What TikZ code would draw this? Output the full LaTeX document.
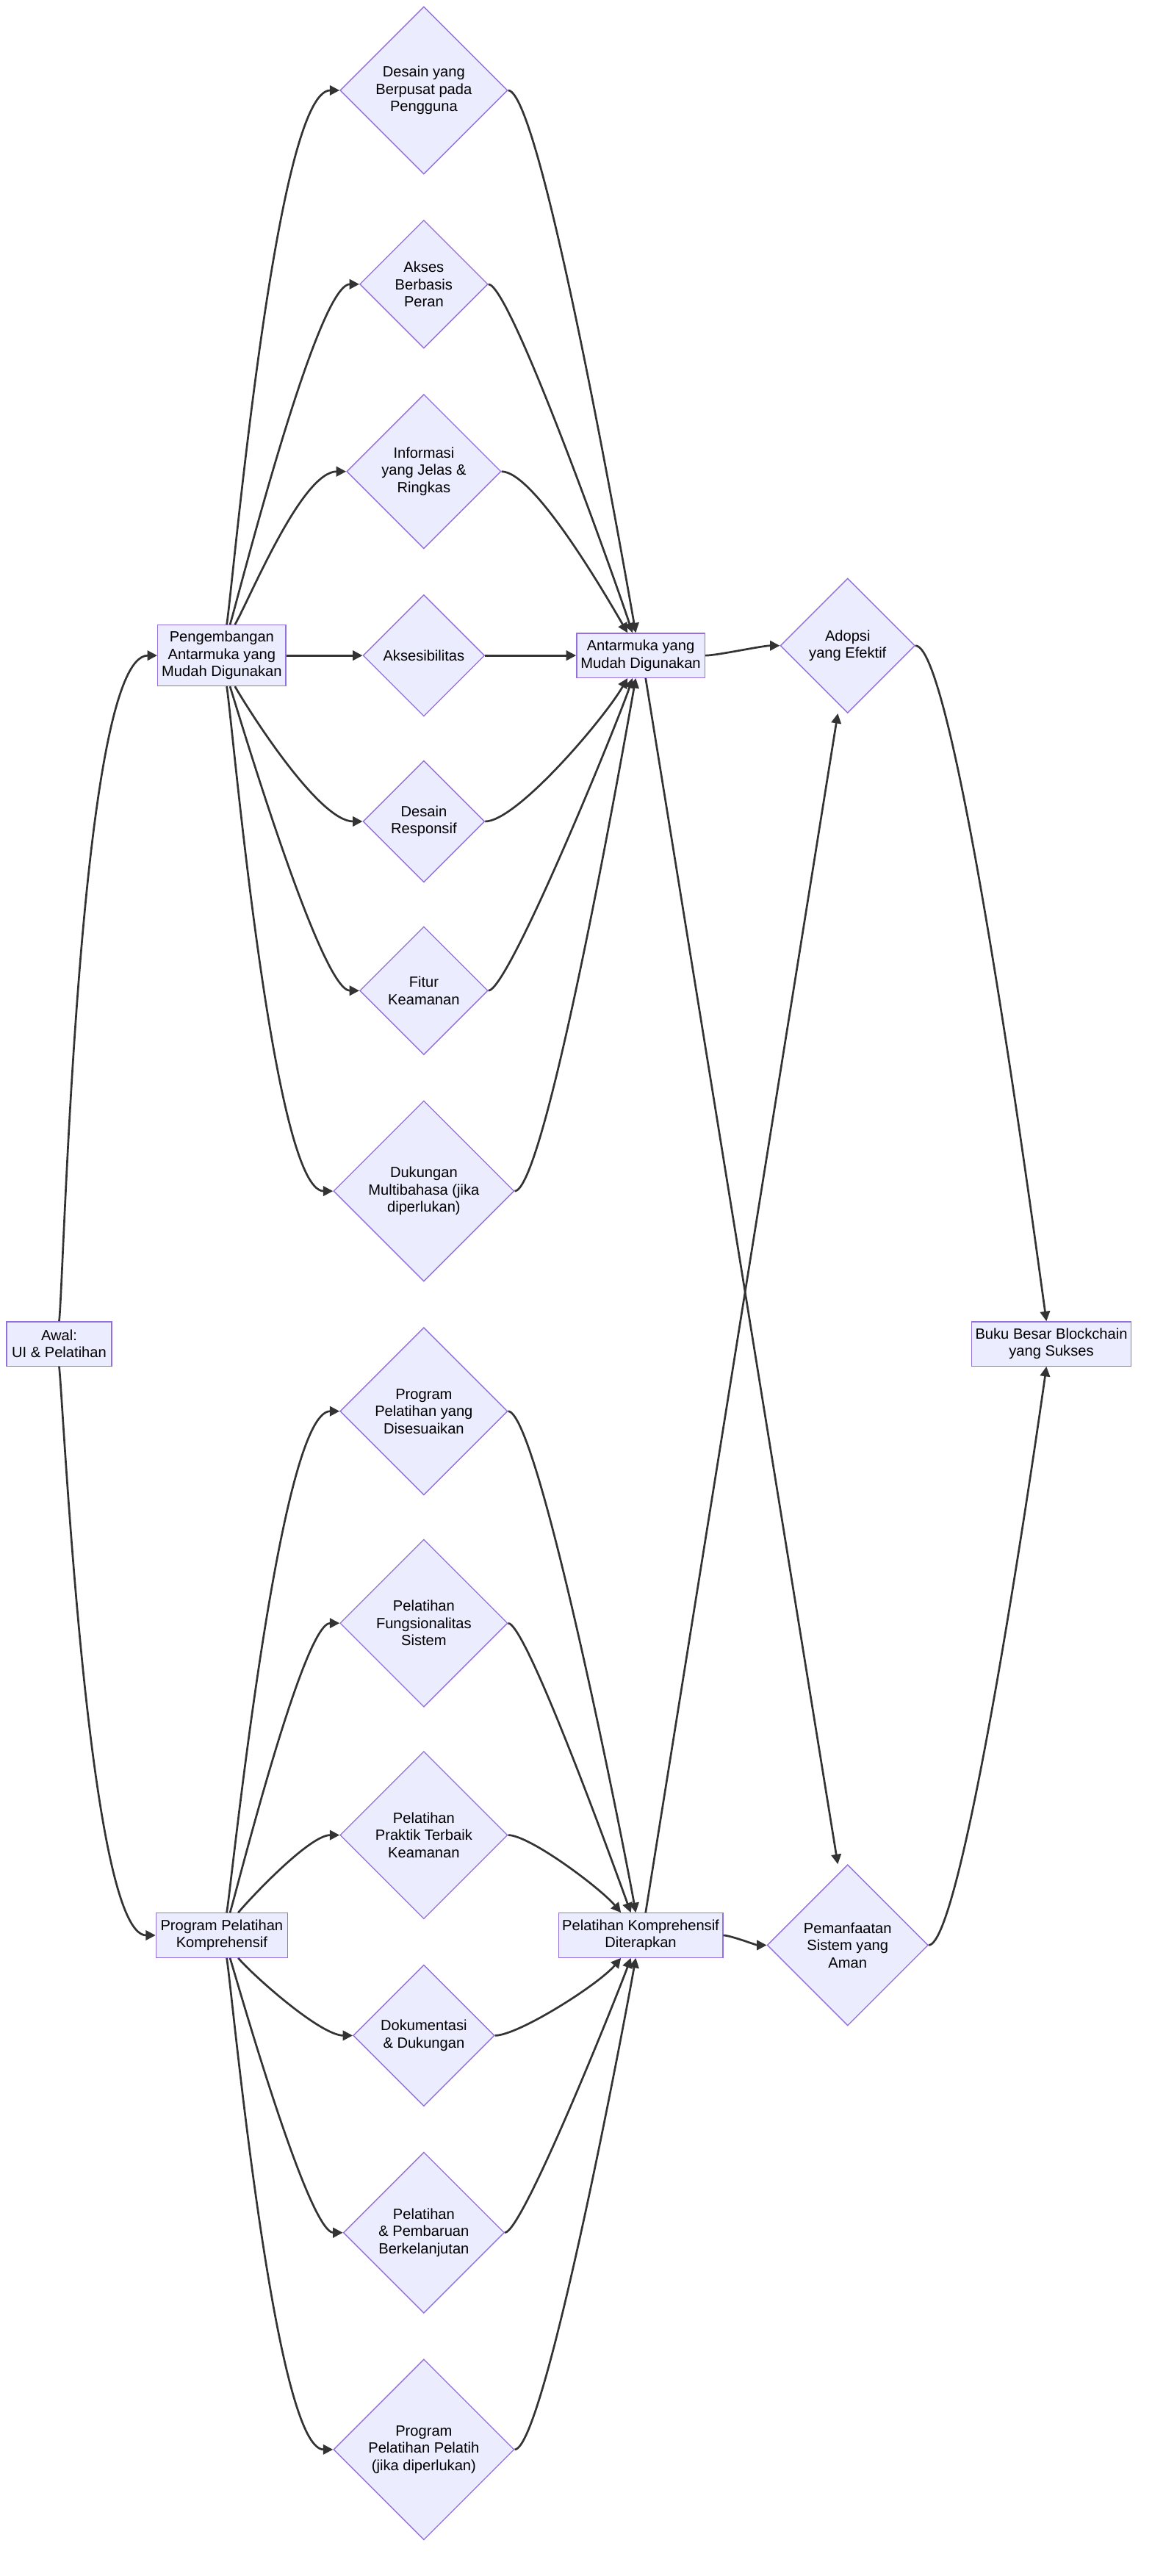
\documentclass[tikz,border=0pt]{standalone}
\usepackage{fontspec}
\setmainfont{Liberation Sans}
\usetikzlibrary{shapes.geometric,arrows.meta}
\definecolor{boxfill}{HTML}{ECECFF}
\definecolor{boxline}{HTML}{9370DB}
\definecolor{linecol}{HTML}{333333}
\tikzset{
  box/.style={draw=boxline, fill=boxfill, align=center, inner sep=2pt, font=\fontsize{9}{10.5}\selectfont, line width=0.6pt},
  dia/.style={diamond, draw=boxline, fill=boxfill, inner sep=0pt, shape aspect=1, minimum size=#1, line width=0.6pt},
  txt/.style={align=center, font=\fontsize{9}{10.5}\selectfont},
  arr/.style={-{Triangle[length=6pt,width=6pt]}, draw=linecol, line width=1.2pt},
  far/.style={out looseness=0.15, in looseness=0.3},
  near/.style={out looseness=0.4, in looseness=0.6}
}
\begin{document}
\begin{tikzpicture}[x=1pt,y=-1pt]
        \useasboundingbox (0,0) rectangle (701,1568);

        % Kotak utama
        \node[box, minimum width=64, minimum height=27] (start) at (36,818) {Awal:\\UI \& Pelatihan};
        \node[box, minimum width=78, minimum height=37] (dev) at (135,399) {Pengembangan\\Antarmuka yang\\Mudah Digunakan};
        \node[box, minimum width=80, minimum height=27] (train) at (135,1178) {Program Pelatihan\\Komprehensif};
        \node[box, minimum width=78, minimum height=27] (ui) at (390,399) {Antarmuka yang\\Mudah Digunakan};
        \node[box, minimum width=100, minimum height=27] (tr) at (390,1178) {Pelatihan Komprehensif\\Diterapkan};
        \node[box, minimum width=97, minimum height=27] (final) at (640,818) {Buku Besar Blockchain\\yang Sukses};

        % Keputusan antarmuka
        \node[dia=102] (d1) at (258,55) {};
        \node[txt] at (d1) {Desain yang\\Berpusat pada\\Pengguna};
        \node[dia=78] (d2) at (258,173) {};
        \node[txt] at (d2) {Akses\\Berbasis\\Peran};
        \node[dia=94] (d3) at (258,287) {};
        \node[txt] at (d3) {Informasi\\yang Jelas \&\\Ringkas};
        \node[dia=74] (d4) at (258,399) {};
        \node[txt] at (d4) {Aksesibilitas};
        \node[dia=74] (d5) at (258,500) {};
        \node[txt] at (d5) {Desain\\Responsif};
        \node[dia=78] (d6) at (258,603) {};
        \node[txt] at (d6) {Fitur\\Keamanan};
        \node[dia=110] (d7) at (258,725) {};
        \node[txt] at (d7) {Dukungan\\Multibahasa (jika\\diperlukan)};

        % Keputusan pelatihan
        \node[dia=102] (e1) at (258,859) {};
        \node[txt] at (e1) {Program\\Pelatihan yang\\Disesuaikan};
        \node[dia=102] (e2) at (258,988) {};
        \node[txt] at (e2) {Pelatihan\\Fungsionalitas\\Sistem};
        \node[dia=102] (e3) at (258,1117) {};
        \node[txt] at (e3) {Pelatihan\\Praktik Terbaik\\Keamanan};
        \node[dia=86] (e4) at (258,1239) {};
        \node[txt] at (e4) {Dokumentasi\\\& Dukungan};
        \node[dia=98] (e5) at (258,1359) {};
        \node[txt] at (e5) {Pelatihan\\\& Pembaruan\\Berkelanjutan};
        \node[dia=110] (e6) at (258,1491) {};
        \node[txt] at (e6) {Program\\Pelatihan Pelatih\\(jika diperlukan)};

        % Hasil
        \node[dia=82] (adopt) at (516,393) {};
        \node[txt] at (adopt) {Adopsi\\yang Efektif};
        \node[dia=98] (util) at (516,1184) {};
        \node[txt] at (util) {Pemanfaatan\\Sistem yang\\Aman};

        % Panah dari awal
        \draw[arr, far] (start.north) to[out=83,in=180] (dev.west);
        \draw[arr, far] (start.south) to[out=-83,in=180] (train.west);

        % Panah antarmuka
        \draw[arr, far] ([xshift=3pt]dev.north) to[out=80,in=180] (d1.west);
        \draw[arr, far] ([xshift=5pt]dev.north) to[out=72,in=180] (d2.west);
        \draw[arr, near] ([xshift=8pt]dev.north) to[out=60,in=180] (d3.west);
        \draw[arr] (dev.east) -- (d4.west);
        \draw[arr, near] ([xshift=8pt]dev.south) to[out=-60,in=180] (d5.west);
        \draw[arr, far] ([xshift=5pt]dev.south) to[out=-72,in=180] (d6.west);
        \draw[arr, far] ([xshift=3pt]dev.south) to[out=-80,in=180] (d7.west);
        \draw[arr, far] (d1.east) to[out=0,in=100] ([xshift=-3pt]ui.north);
        \draw[arr, far] (d2.east) to[out=0,in=108] ([xshift=-5pt]ui.north);
        \draw[arr, near] (d3.east) to[out=0,in=120] ([xshift=-8pt]ui.north);
        \draw[arr] (d4.east) -- (ui.west);
        \draw[arr, near] (d5.east) to[out=0,in=-120] ([xshift=-8pt]ui.south);
        \draw[arr, far] (d6.east) to[out=0,in=-108] ([xshift=-5pt]ui.south);
        \draw[arr, far] (d7.east) to[out=0,in=-100] ([xshift=-3pt]ui.south);

        % Panah pelatihan
        \draw[arr, far] ([xshift=3pt]train.north) to[out=80,in=180] (e1.west);
        \draw[arr, far] ([xshift=5pt]train.north) to[out=72,in=180] (e2.west);
        \draw[arr, near] ([xshift=10pt]train.north) to[out=50,in=180] (e3.west);
        \draw[arr, near] ([xshift=10pt]train.south) to[out=-50,in=180] (e4.west);
        \draw[arr, far] ([xshift=5pt]train.south) to[out=-72,in=180] (e5.west);
        \draw[arr, far] ([xshift=3pt]train.south) to[out=-80,in=180] (e6.west);
        \draw[arr, far] (e1.east) to[out=0,in=100] ([xshift=-3pt]tr.north);
        \draw[arr, far] (e2.east) to[out=0,in=110] ([xshift=-6pt]tr.north);
        \draw[arr, near] (e3.east) to[out=0,in=130] ([xshift=-12pt]tr.north);
        \draw[arr, near] (e4.east) to[out=0,in=-130] ([xshift=-12pt]tr.south);
        \draw[arr, far] (e5.east) to[out=0,in=-110] ([xshift=-6pt]tr.south);
        \draw[arr, far] (e6.east) to[out=0,in=-100] ([xshift=-3pt]tr.south);

        % Panah hasil
        \draw[arr, near] (ui.east) to[out=0,in=180] (adopt.west);
        \draw[arr] ([xshift=3pt]ui.south) -- ([xshift=-6pt]util.north);
        \draw[arr] ([xshift=3pt]tr.north) -- ([xshift=-6pt]adopt.south);
        \draw[arr, near] (tr.east) to[out=0,in=180] (util.west);
        \draw[arr, far] (adopt.east) to[out=0,in=98] ([xshift=-3pt]final.north);
        \draw[arr, far] (util.east) to[out=0,in=-98] ([xshift=-3pt]final.south);
\end{tikzpicture}
\end{document}
